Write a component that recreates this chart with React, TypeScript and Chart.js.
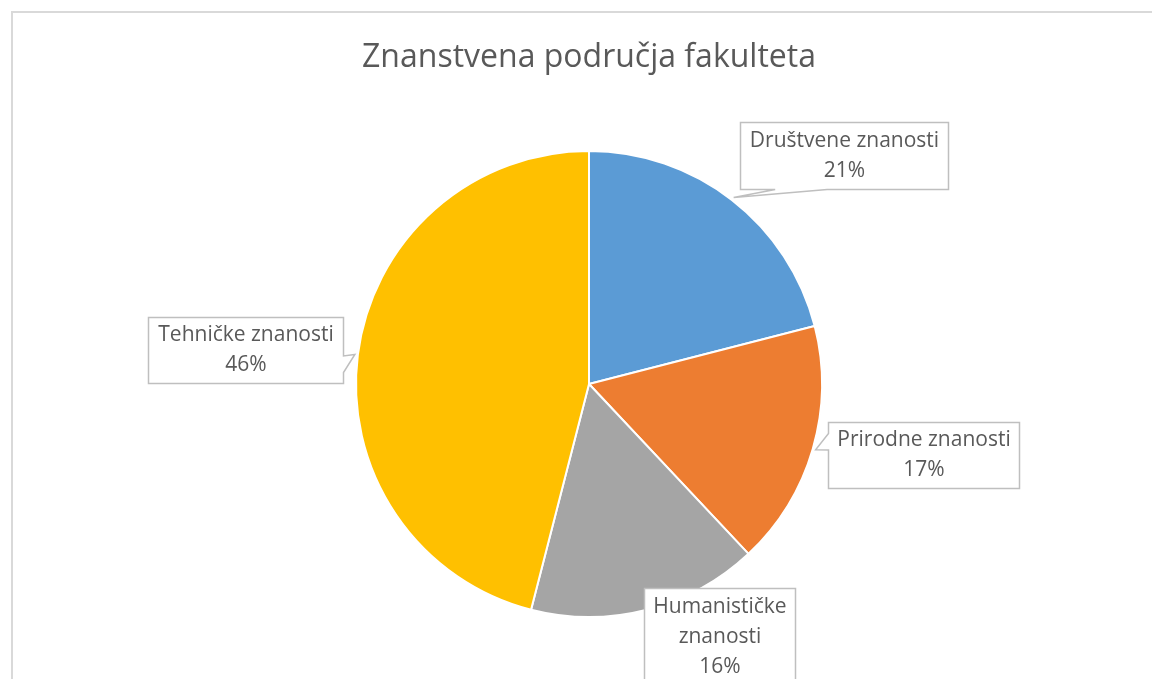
import React, { useEffect, useRef } from "react";
import { Chart, registerables } from "chart.js";

Chart.register(...registerables);

const categories = ["Društvene znanosti", "Prirodne znanosti", "Humanističke znanosti", "Tehničke znanosti"];
const labelLines = [["Društvene znanosti"], ["Prirodne znanosti"], ["Humanističke", "znanosti"], ["Tehničke znanosti"]];
const shares = [21, 17, 16, 46];
const sliceColors = ["#5B9BD5", "#ED7D31", "#A5A5A5", "#FFC000"];
const titleText = "Znanstvena područja fakulteta";

// callout box placement (offset from pie centre in radius units) and box size in px
const calloutLayout = [
  { dx: 1.094, dy: -0.981, w: 208, h: 67 },
  { dx: 1.436, dy: 0.305, w: 191, h: 66 },
  { dx: 0.56, dy: 1.086, w: 151, h: 98 },
  { dx: -1.474, dy: -0.146, w: 195, h: 66 },
];

const FONT = "'Open Sans', 'DejaVu Sans', sans-serif";
const TEXT_COLOR = "#595959";

function calloutPath(ctx: CanvasRenderingContext2D, l: number, t: number, w: number, h: number, tx: number, ty: number) {
  const r = l + w;
  const b = t + h;
  const cx = l + w / 2;
  const cy = t + h / 2;
  ctx.beginPath();
  const inside = tx >= l && tx <= r && ty >= t && ty <= b;
  if (inside) {
    ctx.rect(l, t, w, h);
    return;
  }
  const ndx = (tx - cx) / w;
  const ndy = (ty - cy) / h;
  if (Math.abs(ndx) > Math.abs(ndy)) {
    const y1 = ndy < 0 ? t + (h * 2) / 12 : t + (h * 7) / 12;
    const y2 = ndy < 0 ? t + (h * 5) / 12 : t + (h * 10) / 12;
    if (ndx > 0) {
      ctx.moveTo(l, t);
      ctx.lineTo(r, t);
      ctx.lineTo(r, y1);
      ctx.lineTo(tx, ty);
      ctx.lineTo(r, y2);
      ctx.lineTo(r, b);
      ctx.lineTo(l, b);
      ctx.closePath();
    } else {
      ctx.moveTo(l, t);
      ctx.lineTo(r, t);
      ctx.lineTo(r, b);
      ctx.lineTo(l, b);
      ctx.lineTo(l, y2);
      ctx.lineTo(tx, ty);
      ctx.lineTo(l, y1);
      ctx.closePath();
    }
  } else {
    const x1 = ndx < 0 ? l + (w * 2) / 12 : l + (w * 7) / 12;
    const x2 = ndx < 0 ? l + (w * 5) / 12 : l + (w * 10) / 12;
    if (ndy > 0) {
      ctx.moveTo(l, t);
      ctx.lineTo(r, t);
      ctx.lineTo(r, b);
      ctx.lineTo(x2, b);
      ctx.lineTo(tx, ty);
      ctx.lineTo(x1, b);
      ctx.lineTo(l, b);
      ctx.closePath();
    } else {
      ctx.moveTo(l, t);
      ctx.lineTo(x1, t);
      ctx.lineTo(tx, ty);
      ctx.lineTo(x2, t);
      ctx.lineTo(r, t);
      ctx.lineTo(r, b);
      ctx.lineTo(l, b);
      ctx.closePath();
    }
  }
}

const framePlugin = {
  id: "frame",
  beforeDraw(chart: any) {
    const ctx = chart.ctx;
    ctx.save();
    ctx.fillStyle = "#ffffff";
    ctx.fillRect(0, 0, chart.width, chart.height);
    ctx.strokeStyle = "#d9d9d9";
    ctx.lineWidth = 2;
    ctx.strokeRect(12, 12, chart.width + 20, chart.height + 20);
    ctx.restore();
  },
};

const calloutPlugin = {
  id: "callouts",
  afterDatasetsDraw(chart: any) {
    const ctx = chart.ctx;
    const meta = chart.getDatasetMeta(0);
    const data = chart.data.datasets[0].data as number[];
    const total = data.reduce((a, b) => a + b, 0);
    ctx.save();
    meta.data.forEach((arc: any, i: number) => {
      const { x, y, startAngle, endAngle, outerRadius } = arc.getProps(["x", "y", "startAngle", "endAngle", "outerRadius"], true);
      const mid = (startAngle + endAngle) / 2;
      const tx = x + (outerRadius + 3) * Math.cos(mid);
      const ty = y + (outerRadius + 3) * Math.sin(mid);
      const lay = calloutLayout[i];
      const bx = x + lay.dx * outerRadius;
      const by = y + lay.dy * outerRadius;
      const l = Math.round(bx - lay.w / 2) + 0.5;
      const t = Math.round(by - lay.h / 2) + 0.5;
      calloutPath(ctx, l, t, lay.w, lay.h, tx, ty);
      ctx.fillStyle = "#ffffff";
      ctx.fill();
      ctx.strokeStyle = "#bfbfbf";
      ctx.lineWidth = 1.5;
      ctx.lineJoin = "miter";
      ctx.stroke();
      const lines = [...labelLines[i], Math.round((data[i] / total) * 100) + "%"];
      const lh = 30;
      ctx.fillStyle = TEXT_COLOR;
      ctx.font = `21px ${FONT}`;
      ctx.textAlign = "center";
      ctx.textBaseline = "middle";
      const cy = t + lay.h / 2;
      lines.forEach((s, k) => {
        ctx.fillText(s, l + lay.w / 2, cy + (k - (lines.length - 1) / 2) * lh);
      });
    });
    ctx.restore();
  },
};

export default function App() {
  const ref = useRef<HTMLCanvasElement | null>(null);
  useEffect(() => {
    if (!ref.current) return;
    const chart = new Chart(ref.current, {
      type: "pie",
      data: {
        labels: categories,
        datasets: [
          {
            data: shares,
            backgroundColor: sliceColors,
            borderColor: "#ffffff",
            borderWidth: 2,
          },
        ],
      },
      options: {
        responsive: false,
        animation: false,
        layout: { padding: { top: 0, left: 355, right: 329, bottom: 61 } },
        plugins: {
          legend: { display: false },
          tooltip: { enabled: false },
          title: {
            display: true,
            text: titleText,
            color: TEXT_COLOR,
            font: { family: FONT, size: 32, weight: "normal", lineHeight: 1.2 },
            padding: { top: 39, bottom: 72.6 },
          },
        },
      },
      plugins: [framePlugin, calloutPlugin],
    });
    return () => chart.destroy();
  }, []);
  return (
    <div style={{ position: "fixed", left: 0, top: 0, width: 1152, height: 679, background: "#fff" }}>
      <canvas ref={ref} width={1152} height={679} style={{ display: "block" }} />
    </div>
  );
}
